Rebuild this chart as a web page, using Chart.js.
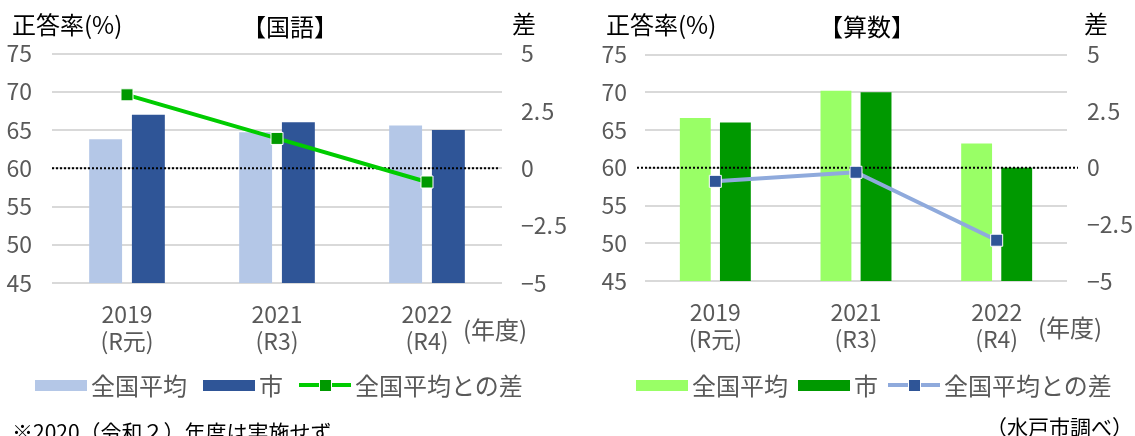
<!DOCTYPE html>
<html lang="ja">
<head>
<meta charset="utf-8">
<title>正答率の推移（国語・算数）</title>
<script src="https://cdn.jsdelivr.net/npm/chart.js@4.4.1/dist/chart.umd.min.js"></script>
<style>
  html, body { margin: 0; padding: 0; background: #fff; }
  body {
    position: relative; width: 1135px; height: 436px; overflow: hidden;
    font-family: "Noto Sans CJK JP", "Noto Sans", sans-serif;
  }
  canvas { position: absolute; top: 0; }
  #kokugo { left: 0; }
  #sansu { left: 580px; }
  .txt { position: absolute; white-space: nowrap; font-size: 24px; line-height: 24px; color: #000; }
  .center { transform: translateX(-50%); }
  .gray { color: #595959; }
  .small { font-size: 21px; line-height: 21px; }
  .legend { position: absolute; top: 373px; height: 24px; display: flex; align-items: center;
            font-size: 24px; line-height: 24px; color: #595959; white-space: nowrap; }
  .legend .item { display: flex; align-items: center; }
  .legend .sw { display: inline-block; width: 52px; height: 11px; margin-right: 4px; position: relative; }
  .legend .sw.line { height: 13px; }
  .legend .sw.line::before {
    content: ''; position: absolute; left: 0; right: 0; top: 50%; height: 4px; margin-top: -2px;
    background: var(--line);
  }
  .legend .sw.line::after {
    content: ''; position: absolute; left: 50%; top: 50%; width: 11px; height: 11px;
    margin: -6.5px 0 0 -6.5px; background: var(--mark); border: 1px solid #fff;
  }
</style>
</head>
<body>

<canvas id="kokugo" width="580" height="436"></canvas>
<canvas id="sansu" width="555" height="436"></canvas>

<!-- left panel texts -->
<div class="txt" style="left:12px; top:12px;">正答率(%)</div>
<div class="txt center" style="left:290px; top:14px;">【国語】</div>
<div class="txt" style="left:512px; top:11px;">差</div>
<div class="txt gray" style="left:463px; top:317px;">(年度)</div>
<div class="legend" id="legendKokugo" style="left:35px;"></div>
<div class="txt small" style="left:12px; top:421px;">※2020（令和２）年度は実施せず</div>

<!-- right panel texts -->
<div class="txt" style="left:606px; top:12px;">正答率(%)</div>
<div class="txt center" style="left:867px; top:14px;">【算数】</div>
<div class="txt" style="left:1084px; top:11px;">差</div>
<div class="txt gray" style="left:1038px; top:315px;">(年度)</div>
<div class="legend" id="legendSansu" style="left:636px;"></div>
<div class="txt small" style="left:986px; top:416px;">（水戸市調べ）</div>

<script>
// categories
const yearLabels = [['2019', '(R元)'], ['2021', '(R3)'], ['2022', '(R4)']];

// 国語 (%, and difference in points)
const kokugoNational = [63.8, 64.7, 65.6];
const kokugoCity = [67.0, 66.0, 65.0];
const kokugoDiff = [3.2, 1.3, -0.6];

// 算数
const sansuNational = [66.6, 70.2, 63.2];
const sansuCity = [66.0, 70.0, 60.0];
const sansuDiff = [-0.6, -0.2, -3.2];

// axis ranges
const rateRange = [45, 75];
const rateStep = 5;
const diffRange = [-5, 5];
const diffStep = 2.5;

const tickFont = { family: "'Liberation Sans Narrow', 'Noto Sans CJK JP', sans-serif", size: 23, lineHeight: 1.17 };
const tickColor = '#595959';

// dotted line at difference = 0, drawn over the bars but under the line
const zeroLine = {
    id: 'zeroLine',
    beforeDatasetDraw(chart, args, opts) {
        if (args.meta.type !== 'line') return;
        const y = chart.scales.y2.getPixelForValue(0);
        const { left, right } = chart.chartArea;
        const ctx = chart.ctx;
        ctx.save();
        ctx.strokeStyle = '#000';
        ctx.lineWidth = 2;
        ctx.setLineDash([2, 2]);
        ctx.beginPath();
        ctx.moveTo(left - opts.padLeft, y);
        ctx.lineTo(right + opts.padRight, y);
        ctx.stroke();
        ctx.restore();
    }
};

function diffLabel(v) {
    return String(v).replace('-', '−').replace('.', '.\u200a');
}

function buildChart(id, cfg) {
    return new Chart(document.getElementById(id), {
        type: 'bar',
        data: {
            labels: yearLabels,
            datasets: [
                {
                    label: '全国平均', data: cfg.national, backgroundColor: cfg.colors.national,
                    yAxisID: 'y', order: 1, categoryPercentage: 0.57, barPercentage: 0.77
                },
                {
                    label: '市', data: cfg.city, backgroundColor: cfg.colors.city,
                    yAxisID: 'y', order: 1, categoryPercentage: 0.57, barPercentage: 0.77
                },
                {
                    type: 'line', label: '全国平均との差', data: cfg.diff, yAxisID: 'y2', order: 0,
                    borderColor: cfg.colors.line, borderWidth: 4,
                    pointStyle: 'rect', pointRadius: 8.5,
                    pointBackgroundColor: cfg.colors.mark, pointBorderColor: '#fff', pointBorderWidth: 1
                }
            ]
        },
        options: {
            responsive: false,
            animation: false,
            layout: { padding: { top: cfg.top, left: 0, right: 0, bottom: 0 } },
            plugins: {
                legend: { display: false },
                tooltip: { enabled: false },
                zeroLine: { padLeft: cfg.dotLeft, padRight: cfg.dotRight }
            },
            scales: {
                x: {
                    grid: { display: false, drawTicks: false },
                    border: { display: false },
                    ticks: { color: tickColor, font: tickFont, padding: 18, maxRotation: 0 },
                    afterFit: s => { s.height = cfg.xHeight; }
                },
                y: {
                    position: 'left', min: rateRange[0], max: rateRange[1],
                    ticks: { stepSize: rateStep, color: tickColor, font: tickFont, padding: cfg.leftPad },
                    grid: { color: '#d9d9d9', lineWidth: 2, drawTicks: false },
                    border: { display: false },
                    afterFit: s => { s.width = cfg.leftWidth; }
                },
                y2: {
                    position: 'right', min: diffRange[0], max: diffRange[1],
                    ticks: { stepSize: diffStep, color: tickColor, font: tickFont, padding: cfg.rightPad, callback: diffLabel },
                    grid: { display: false, drawTicks: false },
                    border: { display: false },
                    afterFit: s => { s.width = cfg.rightWidth; }
                }
            }
        },
        plugins: [zeroLine]
    });
}

function buildLegend(el, chart) {
    chart.data.datasets.forEach(ds => {
        const item = document.createElement('span');
        item.className = 'item';
        item.style.marginRight = el.dataset.gap + 'px';
        const sw = document.createElement('span');
        sw.className = 'sw';
        if (ds.type === 'line') {
            sw.classList.add('line');
            sw.style.setProperty('--line', ds.borderColor);
            sw.style.setProperty('--mark', ds.pointBackgroundColor);
        } else {
            sw.style.background = ds.backgroundColor;
        }
        const label = document.createElement('span');
        label.textContent = ds.label;
        item.append(sw, label);
        el.append(item);
    });
}

const kokugoChart = buildChart('kokugo', {
    national: kokugoNational, city: kokugoCity, diff: kokugoDiff,
    colors: { national: '#b4c7e7', city: '#2f5597', line: '#00cc00', mark: '#009900' },
    top: 53.5, xHeight: 153, leftWidth: 52, leftPad: 20, rightWidth: 78, rightPad: 19,
    dotLeft: 0, dotRight: -4
});

const sansuChart = buildChart('sansu', {
    national: sansuNational, city: sansuCity, diff: sansuDiff,
    colors: { national: '#99ff66', city: '#009900', line: '#8faadc', mark: '#2f5597' },
    top: 54.5, xHeight: 155, leftWidth: 65, leftPad: 18, rightWidth: 68, rightPad: 20,
    dotLeft: 8, dotRight: 11
});

const legK = document.getElementById('legendKokugo');
legK.dataset.gap = 16;
buildLegend(legK, kokugoChart);
const legS = document.getElementById('legendSansu');
legS.dataset.gap = 10;
buildLegend(legS, sansuChart);
</script>
</body>
</html>
